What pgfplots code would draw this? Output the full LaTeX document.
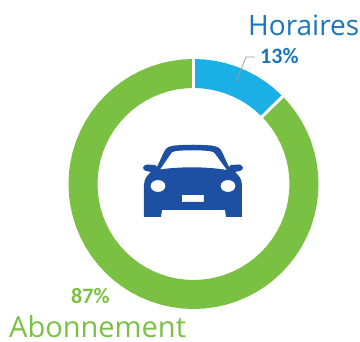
\documentclass[border=0pt]{standalone}
\usepackage{fontspec}
\setmainfont{Carlito}
\newfontfamily\labelfont{Open Sans}
\usepackage{pgfplots}
\pgfplotsset{compat=1.18}
\definecolor{cblue}{HTML}{1AB0E6}
\definecolor{cgreen}{HTML}{7AC143}
\definecolor{tblue}{HTML}{1B75BC}
\definecolor{car}{HTML}{1D4FA3}
\begin{document}
\begin{tikzpicture}
\useasboundingbox (0,0) rectangle (360pt,342pt);
\begin{axis}[at={(0,0)},anchor=south west,width=360pt,height=342pt,scale only axis,hide axis,clip=false,
  xmin=-193.5,xmax=166.5,ymin=-158,ymax=184]
% Horaires 13 %
\addplot[data cs=polar,cblue,line width=29pt,no marks] coordinates {
(90,110.5)(85,110.5)(80,110.5)(75,110.5)(70,110.5)(65,110.5)(60,110.5)(55,110.5)(50,110.5)(45,110.5)(44.5,110.5)};
% Abonnement 87 %
\addplot[data cs=polar,cgreen,line width=29pt,no marks] coordinates {
(44.5,110.5)(40,110.5)(35,110.5)(30,110.5)(25,110.5)(20,110.5)(15,110.5)(10,110.5)(5,110.5)(0,110.5)
(-5,110.5)(-10,110.5)(-15,110.5)(-20,110.5)(-25,110.5)(-30,110.5)(-35,110.5)(-40,110.5)(-45,110.5)(-50,110.5)
(-55,110.5)(-60,110.5)(-65,110.5)(-70,110.5)(-75,110.5)(-80,110.5)(-85,110.5)(-90,110.5)(-95,110.5)(-100,110.5)
(-105,110.5)(-110,110.5)(-115,110.5)(-120,110.5)(-125,110.5)(-130,110.5)(-135,110.5)(-140,110.5)(-145,110.5)(-150,110.5)
(-155,110.5)(-160,110.5)(-165,110.5)(-170,110.5)(-175,110.5)(-180,110.5)(-185,110.5)(-190,110.5)(-195,110.5)(-200,110.5)
(-205,110.5)(-210,110.5)(-215,110.5)(-220,110.5)(-225,110.5)(-230,110.5)(-235,110.5)(-240,110.5)(-245,110.5)(-250,110.5)
(-255,110.5)(-260,110.5)(-265,110.5)(-270,110.5)};
% separators
\addplot[data cs=polar,white,line width=3pt,no marks] coordinates {(90,92)(90,129)};
\addplot[data cs=polar,white,line width=3pt,no marks] coordinates {(44.5,92)(44.5,129)};
\end{axis}
\begin{scope}[x=1pt,y=-1pt,yshift=342pt]
% leader
\draw[gray!80,line width=0.8pt] (236,82)--(246,57)--(255,57);
% labels
\node[anchor=base west,inner sep=0,text=tblue,font=\fontsize{28}{28}\labelfont] at (248,35.5) {Horaires};
\node[anchor=base west,inner sep=0,text=tblue,font=\fontsize{22}{22}\selectfont\bfseries] at (260,63.5) {13\%};
\node[anchor=base west,inner sep=0,text=cgreen,font=\fontsize{22}{22}\selectfont\bfseries] at (71,304) {87\%};
\node[anchor=base west,inner sep=0,text=cgreen,font=\fontsize{29}{29}\labelfont] at (9,338) {Abonnement};
% car icon
\fill[car,even odd rule]
 (144,217) -- (144,185) .. controls (144,178) and (148,175) .. (151,172)
 -- (146,171) .. controls (142,170) and (142,165) .. (147,164.5) -- (155,165)
 -- (157,167) -- (164,152) .. controls (166,147) and (170,146) .. (175,145.5)
 .. controls (187,144.5) and (199,144.5) .. (211,145.5)
 .. controls (216,146) and (220,147) .. (222,152) -- (229,167) -- (231,165)
 -- (239,164.5) .. controls (244,165) and (244,170) .. (240,171) -- (235,172)
 .. controls (238,175) and (242,178) .. (242,185) -- (242,217) -- (226,217) -- (225,210)
 -- (162,210) -- (161,217) -- cycle
 % windscreen
 (160,169.5) .. controls (180,166.5) and (206,166.5) .. (227,170)
 -- (216,155) .. controls (214,151.5) and (212,151.5) .. (209,151)
 .. controls (198,150) and (186,150) .. (176,151)
 .. controls (173,151.5) and (171,152) .. (170,155) -- cycle
 % headlights
 (158,186) ellipse [x radius=7.5pt,y radius=6pt]
 (228,186) ellipse [x radius=7.5pt,y radius=6pt]
 % plate
 (182,195) rectangle (204,202);
\end{scope}
\end{tikzpicture}
\end{document}
